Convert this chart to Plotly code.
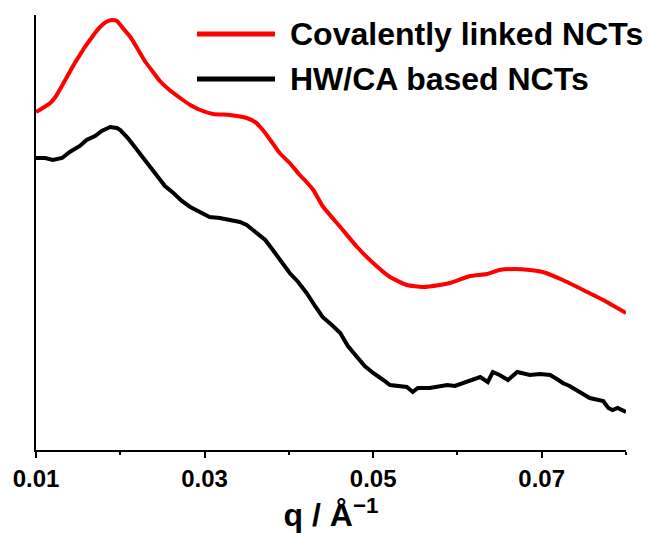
import plotly.graph_objects as go

# q values (Å^-1) and intensities (arbitrary units, offset curves)
q_red = [0.0100, 0.0108, 0.0117, 0.0123, 0.0128, 0.0134, 0.0140, 0.0146, 0.0152, 0.0158,
         0.0164, 0.0170, 0.0176, 0.0183, 0.0190, 0.0196, 0.0203, 0.0212, 0.0220, 0.0229,
         0.0238, 0.0247, 0.0257, 0.0271, 0.0283, 0.0295, 0.0310, 0.0330, 0.0350, 0.0360,
         0.0366, 0.0372, 0.0378, 0.0389, 0.0401, 0.0413, 0.0422, 0.0429, 0.0440, 0.0461,
         0.0481, 0.0500, 0.0520, 0.0540, 0.0559, 0.0579, 0.0591, 0.0615, 0.0635, 0.0650,
         0.0668, 0.0686, 0.0701, 0.0725, 0.0754, 0.0773, 0.0800]
i_red = [338, 342, 347, 353, 360, 369, 378, 387, 395, 403,
         410, 417, 423, 428, 430, 429, 422, 413, 402, 389,
         379, 369, 361, 352, 345, 340, 336, 335, 332, 328,
         323, 317, 310, 297, 287, 275, 267, 260, 244, 223,
         203, 187, 173, 165, 163, 165, 167, 174, 176, 180,
         181, 180, 178, 170, 158, 150, 137]

q_black = [0.0100, 0.0111, 0.0120, 0.0131, 0.0140, 0.0152, 0.0160, 0.0170, 0.0178, 0.0188,
           0.0196, 0.0200, 0.0209, 0.0220, 0.0232, 0.0244, 0.0253, 0.0263, 0.0273, 0.0283,
           0.0295, 0.0306, 0.0318, 0.0330, 0.0342, 0.0350, 0.0362, 0.0372, 0.0381, 0.0392,
           0.0401, 0.0411, 0.0421, 0.0431, 0.0440, 0.0451, 0.0461, 0.0470, 0.0481, 0.0490,
           0.0500, 0.0506, 0.0512, 0.0520, 0.0532, 0.0540, 0.0547, 0.0553, 0.0567, 0.0588,
           0.0597, 0.0607, 0.0617, 0.0627, 0.0636, 0.0642, 0.0650, 0.0660, 0.0671, 0.0678,
           0.0686, 0.0698, 0.0710, 0.0718, 0.0725, 0.0733, 0.0742, 0.0749, 0.0757, 0.0765,
           0.0773, 0.0779, 0.0784, 0.0790, 0.0796, 0.0800]
i_black = [292, 292, 290, 292, 298, 304, 310, 314, 319, 323,
           322, 320, 312, 300, 287, 273, 264, 257, 249, 243,
           238, 233, 232, 230, 228, 225, 217, 210, 200, 188,
           177, 168, 157, 144, 133, 125, 117, 104, 93, 84,
           77, 73, 70, 65, 64, 63, 58, 62, 62, 65,
           64, 67, 70, 73, 68, 78, 75, 70, 78, 77,
           75, 76, 75, 71, 67, 64, 60, 56, 52, 51,
           49, 42, 40, 42, 39, 38]

series_names = ["Covalently linked NCTs", "HW/CA based NCTs"]
tick_vals = [0.01, 0.03, 0.05, 0.07]
tick_text = ["0.01", "0.03", "0.05", "0.07"]

FONT = "Liberation Sans, Arial, Helvetica, sans-serif"

fig = go.Figure()
fig.add_trace(go.Scatter(x=q_red, y=i_red, mode="lines", name=series_names[0],
                         line=dict(color="#ff0000", width=4, shape="spline", smoothing=0.5),
                         showlegend=False))
fig.add_trace(go.Scatter(x=q_black, y=i_black, mode="lines", name=series_names[1],
                         line=dict(color="#000000", width=4),
                         showlegend=False))

# legend drawn manually (long line samples)
legend_rows = [(series_names[0], "#ff0000", 34), (series_names[1], "#000000", 79)]
for name, col, ypx in legend_rows:
    yp = 1 - (ypx - 15) / 435.0
    fig.add_shape(type="line", xref="paper", yref="paper",
                  x0=(197 - 36) / 590.0, x1=(275 - 36) / 590.0, y0=yp, y1=yp,
                  line=dict(color=col, width=5))
    fig.add_annotation(xref="paper", yref="paper", x=(288 - 36) / 590.0, y=yp,
                       text=name, showarrow=False, xanchor="left", yanchor="middle",
                       font=dict(family=FONT, size=32, color="#000000", weight="bold"))

fig.update_layout(
    width=649, height=533,
    margin=dict(l=36, r=23, t=15, b=83),
    paper_bgcolor="white", plot_bgcolor="white",
    font=dict(family=FONT, color="#000000"),
)
fig.update_xaxes(
    range=[0.01, 0.08], showgrid=False, zeroline=False, automargin=False,
    showline=True, linecolor="#000000", linewidth=2,
    tickmode="array", tickvals=tick_vals, ticktext=tick_text,
    ticks="outside", ticklen=6, tickwidth=2, tickcolor="#000000",
    tickfont=dict(family=FONT, size=24, color="#000000", weight="bold"),
    minor=dict(tickmode="array", tickvals=[0.02, 0.04, 0.06, 0.08], ticks="outside",
               ticklen=3, tickwidth=2, tickcolor="#000000", showgrid=False),
    title=dict(text="q / Å<sup>−1</sup>",
               font=dict(family=FONT, size=32, color="#000000", weight="bold")),
)
fig.update_yaxes(
    range=[0, 435], showgrid=False, zeroline=False, automargin=False,
    showline=True, linecolor="#000000", linewidth=2,
    showticklabels=False, ticks="",
)

fig.write_html("out.html")
